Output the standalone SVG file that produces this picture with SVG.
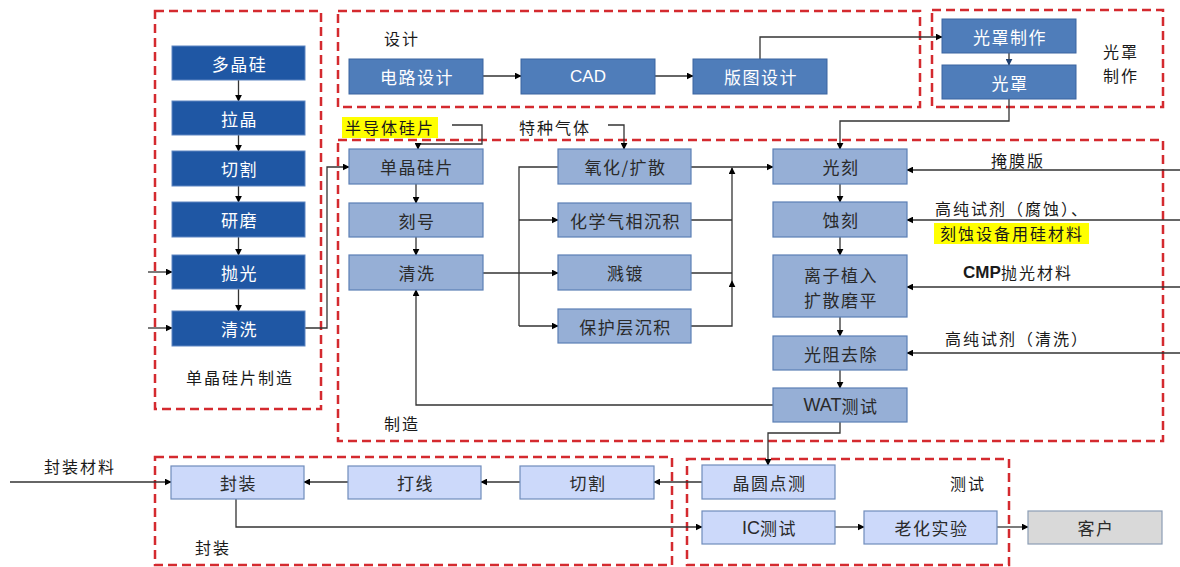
<svg xmlns="http://www.w3.org/2000/svg" width="1180" height="567" viewBox="0 0 1180 567">
  <defs>
    <marker id="ah" viewBox="0 0 10 10" refX="9" refY="5" markerWidth="7" markerHeight="7" orient="auto" markerUnits="userSpaceOnUse">
      <path d="M0,0 L10,5 L0,10 z" fill="#000"/>
    </marker>
    <marker id="ahb" viewBox="0 0 10 10" refX="9" refY="5" markerWidth="7" markerHeight="7" orient="auto" markerUnits="userSpaceOnUse">
      <path d="M0,0 L10,5 L0,10 z" fill="#1F3F6E"/>
    </marker>
    <style>
      text { font-family: "Noto Sans CJK SC", "Liberation Sans", sans-serif; font-size: 17px; letter-spacing: 1.5px; text-anchor: middle; dominant-baseline: central; }
      .zone { fill: none; stroke: #D42A2F; stroke-width: 2.5; stroke-dasharray: 9 5; }
      .dark rect { fill: #1F57A4; stroke: #5E86C2; stroke-width: 1; }
      .dark text { fill: #fff; }
      .mid rect { fill: #4F7DBA; stroke: #3A64A0; stroke-width: 1; }
      .mid text { fill: #fff; }
      .lite rect { fill: #96AFD6; stroke: #5B7FB5; stroke-width: 1.2; }
      .lite text { fill: #2a2a2a; }
      .pale rect { fill: #CCD9FA; stroke: #6F8CBB; stroke-width: 1.2; }
      .pale text { fill: #2a2a2a; }
      .grey rect { fill: #D9D9D9; stroke: #8C9DB5; stroke-width: 1.2; }
      .grey text { fill: #2a2a2a; }
      .lbl { fill: #1a1a1a; font-size: 16px; letter-spacing: 2px; }
      .en { font-family: "Liberation Sans", "Noto Sans CJK SC", sans-serif; letter-spacing: 0; }
      .wire { fill: none; stroke: #333; stroke-width: 1.3; }
      .hl { fill: #FFFF00; }
    </style>
  </defs>

  <rect width="1180" height="567" fill="#fff"/>

  <!-- dashed zones -->
  <g id="zones">
    <rect class="zone" x="155" y="11" width="166" height="398"/>
    <rect class="zone" x="338" y="11" width="582" height="96"/>
    <rect class="zone" x="932" y="10" width="231" height="97"/>
    <rect class="zone" x="338" y="140" width="825" height="301"/>
    <rect class="zone" x="155" y="457" width="517" height="108"/>
    <rect class="zone" x="687" y="459" width="322" height="106"/>
  </g>

  <!-- zone titles and input labels -->
  <g id="labels">
    <text class="lbl" x="240" y="377">单晶硅片制造</text>
    <text class="lbl" x="402" y="38">设计</text>
    <text class="lbl" x="1121" y="51">光罩</text>
    <text class="lbl" x="1121" y="75">制作</text>
    <rect class="hl" x="342" y="117" width="96" height="21"/>
    <text class="lbl" x="390" y="127">半导体硅片</text>
    <text class="lbl" x="555" y="127">特种气体</text>
    <text class="lbl" x="402" y="423">制造</text>
    <text class="lbl" x="1018" y="160">掩膜版</text>
    <text class="lbl" x="1012" y="208">高纯试剂（腐蚀）、</text>
    <rect class="hl" x="934" y="223" width="155" height="21"/>
    <text class="lbl" x="1012" y="233">刻蚀设备用硅材料</text>
    <text class="lbl" x="1018" y="272"><tspan class="en" font-weight="bold" font-size="17">CMP</tspan>抛光材料</text>
    <text class="lbl" x="1017" y="338">高纯试剂（清洗）</text>
    <text class="lbl" x="80" y="466">封装材料</text>
    <text class="lbl" x="213" y="547">封装</text>
    <text class="lbl" x="968" y="483">测试</text>
  </g>

  <!-- connectors -->
  <g id="connectors">
    <!-- wafer column -->
    <line class="wire" x1="238.5" y1="80" x2="238.5" y2="101" marker-end="url(#ah)"/>
    <line class="wire" x1="238.5" y1="135" x2="238.5" y2="151" marker-end="url(#ah)"/>
    <line class="wire" x1="238.5" y1="186" x2="238.5" y2="202" marker-end="url(#ah)"/>
    <line class="wire" x1="238.5" y1="237" x2="238.5" y2="255" marker-end="url(#ah)"/>
    <line class="wire" x1="238.5" y1="289" x2="238.5" y2="311" marker-end="url(#ah)"/>
    <line class="wire" x1="148" y1="272" x2="172" y2="272" marker-end="url(#ah)"/>
    <line class="wire" x1="148" y1="328" x2="172" y2="328" marker-end="url(#ah)"/>
    <polyline class="wire" points="305,328 327,328 327,167 349,167" marker-end="url(#ah)"/>

    <!-- design -->
    <line class="wire" x1="483" y1="76" x2="521" y2="76" marker-end="url(#ah)"/>
    <line class="wire" x1="655" y1="76" x2="693" y2="76" marker-end="url(#ah)"/>
    <polyline class="wire" points="760,59 760,37 942,37" marker-end="url(#ah)"/>

    <!-- mask -->
    <line class="wire" x1="1009" y1="53" x2="1009" y2="65" marker-end="url(#ahb)"/>
    <polyline class="wire" points="1009,99 1009,121 840,121 840,149" marker-end="url(#ah)"/>

    <!-- manufacturing left -->
    <polyline class="wire" points="452,125 482,125 482,144 418,144 418,149" marker-end="url(#ah)"/>
    <polyline class="wire" points="608,125 624,125 624,149" marker-end="url(#ah)"/>
    <line class="wire" x1="416" y1="184" x2="416" y2="203" marker-end="url(#ah)"/>
    <line class="wire" x1="416" y1="237" x2="416" y2="255" marker-end="url(#ah)"/>
    <polyline class="wire" points="558,167 519,167 519,326"/>
    <line class="wire" x1="519" y1="220" x2="558" y2="220" marker-end="url(#ah)"/>
    <line class="wire" x1="483" y1="273" x2="558" y2="273" marker-end="url(#ah)"/>
    <line class="wire" x1="519" y1="326" x2="558" y2="326" marker-end="url(#ah)"/>

    <!-- manufacturing merge -->
    <line class="wire" x1="691" y1="167" x2="773" y2="167" marker-end="url(#ah)"/>
    <line class="wire" x1="691" y1="220" x2="732" y2="220"/>
    <line class="wire" x1="691" y1="273" x2="732" y2="273"/>
    <polyline class="wire" points="691,326 732,326 732,281" marker-end="url(#ah)"/>
    <line class="wire" x1="732" y1="281" x2="732" y2="168" marker-end="url(#ah)"/>

    <!-- manufacturing right column -->
    <line class="wire" x1="840" y1="184" x2="840" y2="202" marker-end="url(#ah)"/>
    <line class="wire" x1="840" y1="237" x2="840" y2="255" marker-end="url(#ah)"/>
    <line class="wire" x1="840" y1="317" x2="840" y2="336" marker-end="url(#ah)"/>
    <line class="wire" x1="840" y1="370" x2="840" y2="388" marker-end="url(#ah)"/>
    <line class="wire" x1="1180" y1="170" x2="907" y2="170" marker-end="url(#ah)"/>
    <line class="wire" x1="1180" y1="220" x2="907" y2="220" marker-end="url(#ah)"/>
    <line class="wire" x1="1180" y1="287" x2="907" y2="287" marker-end="url(#ah)"/>
    <line class="wire" x1="1180" y1="353" x2="907" y2="353" marker-end="url(#ah)"/>
    <polyline class="wire" points="773,405 416,405 416,290" marker-end="url(#ah)"/>
    <polyline class="wire" points="840,422 840,433 768,433 768,465" marker-end="url(#ah)"/>

    <!-- packaging / test -->
    <line class="wire" x1="702" y1="482" x2="654" y2="482" marker-end="url(#ah)"/>
    <line class="wire" x1="520" y1="482" x2="481" y2="482" marker-end="url(#ah)"/>
    <line class="wire" x1="348" y1="482" x2="304" y2="482" marker-end="url(#ah)"/>
    <line class="wire" x1="10" y1="482" x2="171" y2="482" marker-end="url(#ah)"/>
    <polyline class="wire" points="236,499 236,527 702,527" marker-end="url(#ah)"/>
    <line class="wire" x1="835" y1="527" x2="864" y2="527" marker-end="url(#ah)"/>
    <line class="wire" x1="997" y1="527" x2="1028" y2="527" marker-end="url(#ah)"/>
  </g>

  <!-- wafer preparation nodes -->
  <g id="n-polysi" class="dark"><rect x="172" y="46" width="133" height="34"/><text x="239.5" y="63">多晶硅</text></g>
  <g id="n-pull" class="dark"><rect x="172" y="101" width="133" height="34"/><text x="239.5" y="118">拉晶</text></g>
  <g id="n-cut1" class="dark"><rect x="172" y="151" width="133" height="35"/><text x="239.5" y="168.5">切割</text></g>
  <g id="n-grind" class="dark"><rect x="172" y="202" width="133" height="35"/><text x="239.5" y="219.5">研磨</text></g>
  <g id="n-polish" class="dark"><rect x="172" y="255" width="133" height="34"/><text x="239.5" y="272">抛光</text></g>
  <g id="n-clean1" class="dark"><rect x="172" y="311" width="133" height="35"/><text x="239.5" y="328.5">清洗</text></g>

  <!-- design nodes -->
  <g id="n-circuit" class="mid"><rect x="349" y="59" width="134" height="35"/><text x="417" y="76.5">电路设计</text></g>
  <g id="n-cad" class="mid"><rect x="521" y="59" width="134" height="35"/><text class="en" x="588" y="76.5" font-size="18">CAD</text></g>
  <g id="n-layout" class="mid"><rect x="693" y="59" width="134" height="35"/><text x="761" y="76.5">版图设计</text></g>

  <!-- mask nodes -->
  <g id="n-maskmake" class="mid"><rect x="942" y="19" width="134" height="34"/><text x="1010" y="36">光罩制作</text></g>
  <g id="n-mask" class="mid"><rect x="942" y="65" width="134" height="34"/><text x="1010" y="82">光罩</text></g>

  <!-- manufacturing nodes -->
  <g id="n-wafer" class="lite"><rect x="349" y="149" width="134" height="35"/><text x="417" y="166.5">单晶硅片</text></g>
  <g id="n-mark" class="lite"><rect x="349" y="203" width="134" height="34"/><text x="417" y="220">刻号</text></g>
  <g id="n-clean2" class="lite"><rect x="349" y="255" width="134" height="35"/><text x="417" y="272.5">清洗</text></g>
  <g id="n-oxid" class="lite"><rect x="558" y="149" width="133" height="35"/><text x="625.5" y="166.5">氧化/扩散</text></g>
  <g id="n-cvd" class="lite"><rect x="558" y="203" width="133" height="34"/><text x="625.5" y="220">化学气相沉积</text></g>
  <g id="n-sputter" class="lite"><rect x="558" y="255" width="133" height="35"/><text x="625.5" y="272.5">溅镀</text></g>
  <g id="n-passiv" class="lite"><rect x="558" y="309" width="133" height="34"/><text x="625.5" y="326">保护层沉积</text></g>
  <g id="n-litho" class="lite"><rect x="773" y="149" width="134" height="35"/><text x="841" y="166.5">光刻</text></g>
  <g id="n-etch" class="lite"><rect x="773" y="202" width="134" height="35"/><text x="841" y="219.5">蚀刻</text></g>
  <g id="n-implant" class="lite"><rect x="773" y="255" width="134" height="62"/><text x="841" y="274">离子植入</text><text x="841" y="299">扩散磨平</text></g>
  <g id="n-strip" class="lite"><rect x="773" y="336" width="134" height="34"/><text x="841" y="353">光阻去除</text></g>
  <g id="n-wat" class="lite"><rect x="773" y="388" width="134" height="34"/><text x="841" y="405"><tspan class="en" font-size="18">WAT</tspan>测试</text></g>

  <!-- packaging nodes -->
  <g id="n-pack" class="pale"><rect x="171" y="466" width="133" height="33"/><text x="238.5" y="482.5">封装</text></g>
  <g id="n-bond" class="pale"><rect x="348" y="466" width="133" height="33"/><text x="415.5" y="482.5">打线</text></g>
  <g id="n-dice" class="pale"><rect x="520" y="466" width="134" height="33"/><text x="588" y="482.5">切割</text></g>

  <!-- test nodes -->
  <g id="n-probe" class="pale"><rect x="702" y="465" width="133" height="34"/><text x="769.5" y="482">晶圆点测</text></g>
  <g id="n-ictest" class="pale"><rect x="702" y="511" width="133" height="33"/><text x="769.5" y="527.5"><tspan class="en" font-size="18">IC</tspan>测试</text></g>
  <g id="n-burnin" class="pale"><rect x="864" y="511" width="133" height="33"/><text x="931.5" y="527.5">老化实验</text></g>
  <g id="n-customer" class="grey"><rect x="1028" y="511" width="134" height="33"/><text x="1096" y="527.5">客户</text></g>
</svg>
